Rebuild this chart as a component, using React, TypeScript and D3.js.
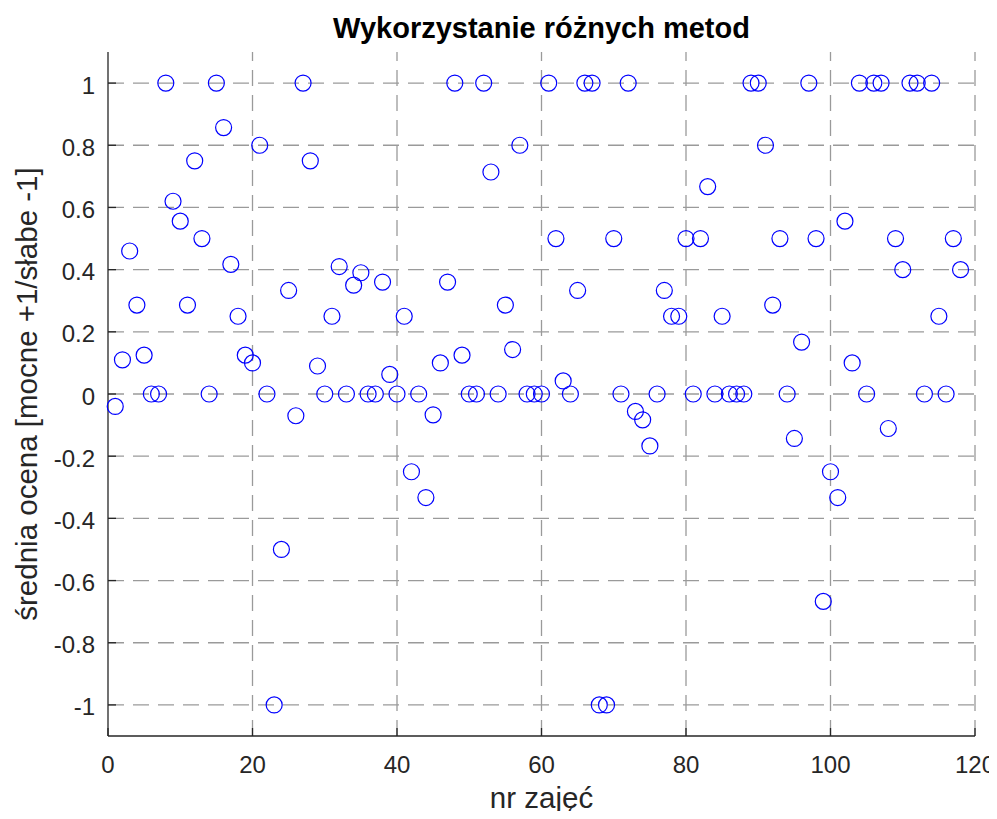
import React, { useEffect, useRef } from 'react';
import * as d3 from 'd3';

// nr zajęć: 1..118
const lessons = d3.range(1, 119);

// średnia ocena for each lesson
const scores = [
  -0.04, 0.11, 0.46, 0.286, 0.125, 0, 0, 1, 0.62, 0.556,
  0.286, 0.75, 0.5, 0, 1, 0.857, 0.417, 0.25, 0.125, 0.1,
  0.8, 0, -1, -0.5, 0.333, -0.07, 1, 0.75, 0.09, 0,
  0.25, 0.41, 0, 0.35, 0.39, 0, 0, 0.36, 0.063, 0,
  0.25, -0.25, 0, -0.333, -0.067, 0.1, 0.36, 1, 0.125, 0,
  0, 1, 0.714, 0, 0.286, 0.143, 0.8, 0, 0, 0,
  1, 0.5, 0.042, 0, 0.333, 1, 1, -1, -1, 0.5,
  0, 1, -0.056, -0.083, -0.167, 0, 0.333, 0.25, 0.25, 0.5,
  0, 0.5, 0.667, 0, 0.25, 0, 0, 0, 1, 1,
  0.8, 0.286, 0.5, 0, -0.143, 0.167, 1, 0.5, -0.667, -0.25,
  -0.333, 0.556, 0.1, 1, 0, 1, 1, -0.111, 0.5, 0.4,
  1, 1, 0, 1, 0.25, 0, 0.5, 0.4,
];

const xTicks = [0, 20, 40, 60, 80, 100, 120];
const yTicks = [-1, -0.8, -0.6, -0.4, -0.2, 0, 0.2, 0.4, 0.6, 0.8, 1];

const App = () => {
  const svgRef = useRef<SVGSVGElement>(null);

  useEffect(() => {
    const width = 997;
    const height = 819;
    const left = 108, right = 975, top = 52, bottom = 736;
    const font = 'Arial, "Liberation Sans", sans-serif';

    const svg = d3.select(svgRef.current)
      .attr('width', width)
      .attr('height', height)
      .style('background', '#fff')
      .style('display', 'block');
    svg.selectAll('*').remove();

    const x = d3.scaleLinear().domain([0, 120]).range([left, right]);
    const y = d3.scaleLinear().domain([-1.1, 1.1]).range([bottom, top]);

    // grid
    const grid = svg.append('g')
      .attr('stroke', '#9a9a9a')
      .attr('stroke-width', 1.3)
      .attr('stroke-dasharray', '16,9');
    grid.selectAll('.gx')
      .data(xTicks.filter(d => d > 0))
      .enter().append('line')
      .attr('x1', d => x(d)).attr('x2', d => x(d))
      .attr('y1', bottom).attr('y2', top);
    grid.selectAll('.gy')
      .data(yTicks)
      .enter().append('line')
      .attr('y1', d => y(d)).attr('y2', d => y(d))
      .attr('x1', left).attr('x2', right);

    // axes
    const axisColor = '#262626';
    svg.append('line')
      .attr('x1', left).attr('x2', left).attr('y1', top).attr('y2', bottom)
      .attr('stroke', axisColor).attr('stroke-width', 1.3);
    svg.append('line')
      .attr('x1', left).attr('x2', right).attr('y1', bottom).attr('y2', bottom)
      .attr('stroke', axisColor).attr('stroke-width', 1.3);

    svg.selectAll('.tx')
      .data(xTicks)
      .enter().append('line')
      .attr('x1', d => x(d)).attr('x2', d => x(d))
      .attr('y1', bottom).attr('y2', bottom - 8)
      .attr('stroke', axisColor).attr('stroke-width', 1.3);
    svg.selectAll('.ty')
      .data(yTicks)
      .enter().append('line')
      .attr('x1', left).attr('x2', left + 8)
      .attr('y1', d => y(d)).attr('y2', d => y(d))
      .attr('stroke', axisColor).attr('stroke-width', 1.3);

    svg.selectAll('.lx')
      .data(xTicks)
      .enter().append('text')
      .attr('x', d => x(d))
      .attr('y', 773)
      .attr('text-anchor', 'middle')
      .attr('font-family', font)
      .attr('font-size', 24)
      .attr('fill', axisColor)
      .text(d => d);
    svg.selectAll('.ly')
      .data(yTicks)
      .enter().append('text')
      .attr('x', 95)
      .attr('y', d => y(d))
      .attr('dy', '0.44em')
      .attr('text-anchor', 'end')
      .attr('font-family', font)
      .attr('font-size', 24)
      .attr('fill', axisColor)
      .text(d => d3.format('')(d).replace('−', '-'));

    // points
    svg.append('g')
      .selectAll('circle')
      .data(lessons)
      .enter().append('circle')
      .attr('cx', d => x(d))
      .attr('cy', (d, i) => y(scores[i]))
      .attr('r', 8)
      .attr('fill', 'none')
      .attr('stroke', '#0000ff')
      .attr('stroke-width', 1.2);

    // title and labels
    svg.append('text')
      .attr('x', (left + right) / 2)
      .attr('y', 38)
      .attr('text-anchor', 'middle')
      .attr('font-family', font)
      .attr('font-size', 29)
      .attr('font-weight', 'bold')
      .attr('fill', '#000')
      .text('Wykorzystanie różnych metod');
    svg.append('text')
      .attr('x', (left + right) / 2)
      .attr('y', 808)
      .attr('text-anchor', 'middle')
      .attr('font-family', font)
      .attr('font-size', 29.5)
      .attr('fill', axisColor)
      .text('nr zajęć');
    svg.append('text')
      .attr('transform', `translate(37, ${(top + bottom) / 2}) rotate(-90)`)
      .attr('text-anchor', 'middle')
      .attr('font-family', font)
      .attr('font-size', 29.5)
      .attr('fill', axisColor)
      .text('średnia ocena [mocne +1/słabe -1]');
  }, []);

  return (
    <div style={{ margin: '-8px' }}>
      <svg ref={svgRef}></svg>
    </div>
  );
};

export default App;
